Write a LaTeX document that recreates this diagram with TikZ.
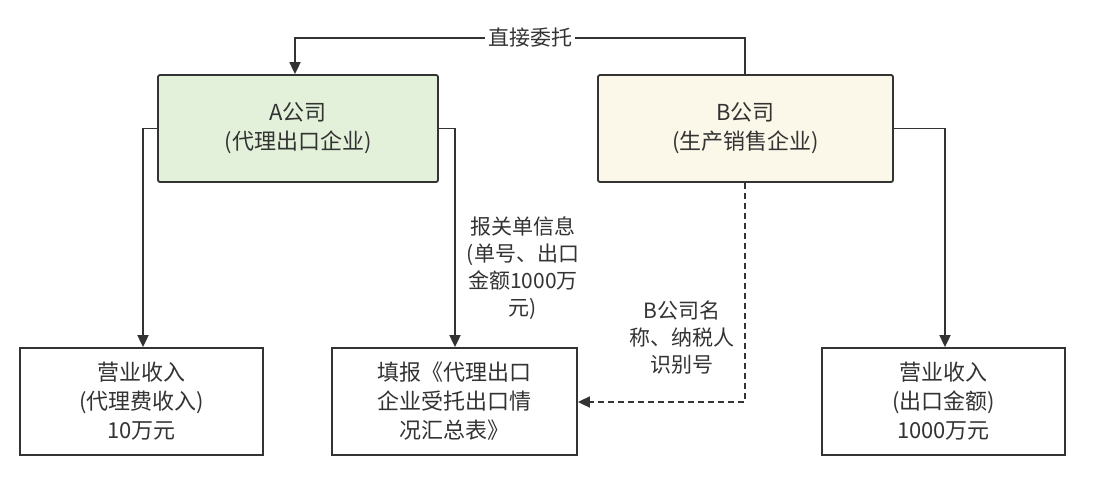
\documentclass[tikz,border=0pt]{standalone}
\usepackage{fontspec}
\setmainfont{Noto Sans CJK SC}
\usetikzlibrary{arrows.meta}
\definecolor{gA}{HTML}{E3F1DA}
\definecolor{yB}{HTML}{FBF8E9}
\definecolor{ln}{HTML}{333333}
\begin{document}
\begin{tikzpicture}[x=1pt,y=-1pt,
  box/.style={draw=ln,line width=1.8pt,align=center,font=\fontsize{22}{29}\selectfont,text=ln},
  arr/.style={draw=ln,line width=1.8pt,-{Triangle[length=12pt,width=11pt]}},
  lab/.style={align=center,font=\fontsize{21}{27}\selectfont,text=ln}]
\useasboundingbox[fill=white] (0,0) rectangle (1094,482);
\node[box,fill=gA,rounded corners=2pt,minimum width=280pt,minimum height=107pt] (A) at (298,128.5) {A公司\\(代理出口企业)};
\node[box,fill=yB,rounded corners=2pt,minimum width=295pt,minimum height=107pt] (B) at (745.5,128.5) {B公司\\(生产销售企业)};
\node[box,minimum width=243pt,minimum height=107pt] (L) at (141.5,401.5) {营业收入\\(代理费收入)\\10万元};
\node[box,minimum width=245pt,minimum height=107pt] (M) at (454.5,401.5) {填报《代理出口\\企业受托出口情\\况汇总表》};
\node[box,minimum width=243pt,minimum height=107pt] (R) at (943.5,401.5) {营业收入\\(出口金额)\\1000万元};
\coordinate (t1) at (745,38);
\coordinate (t2) at (295,38);
\draw[arr] (B.north -| t1) -- (t1) -- (t2) -- (A.north -| t2);
\node[lab,fill=white,inner sep=3pt] (k1) at (530,38) {直接委托};
\coordinate (a1) at (143,128.5);
\draw[arr] (A.west) -- (a1) -- (L.north -| a1);
\coordinate (a2) at (455,128.5);
\draw[arr] (A.east) -- (a2) -- (M.north -| a2);
\node[lab] (k2) at (523,268) {报关单信息\\(单号、出口\\金额1000万\\元)};
\coordinate (b1) at (945,128.5);
\draw[arr] (B.east) -- (b1) -- (R.north -| b1);
\coordinate (d1) at (745,402);
\draw[arr,dashed,dash pattern=on 6pt off 4pt] (B.south -| d1) -- (d1) -- (M.east |- d1);
\node[lab] (k3) at (682,338) {B公司名\\称、纳税人\\识别号};
\end{tikzpicture}
\end{document}
